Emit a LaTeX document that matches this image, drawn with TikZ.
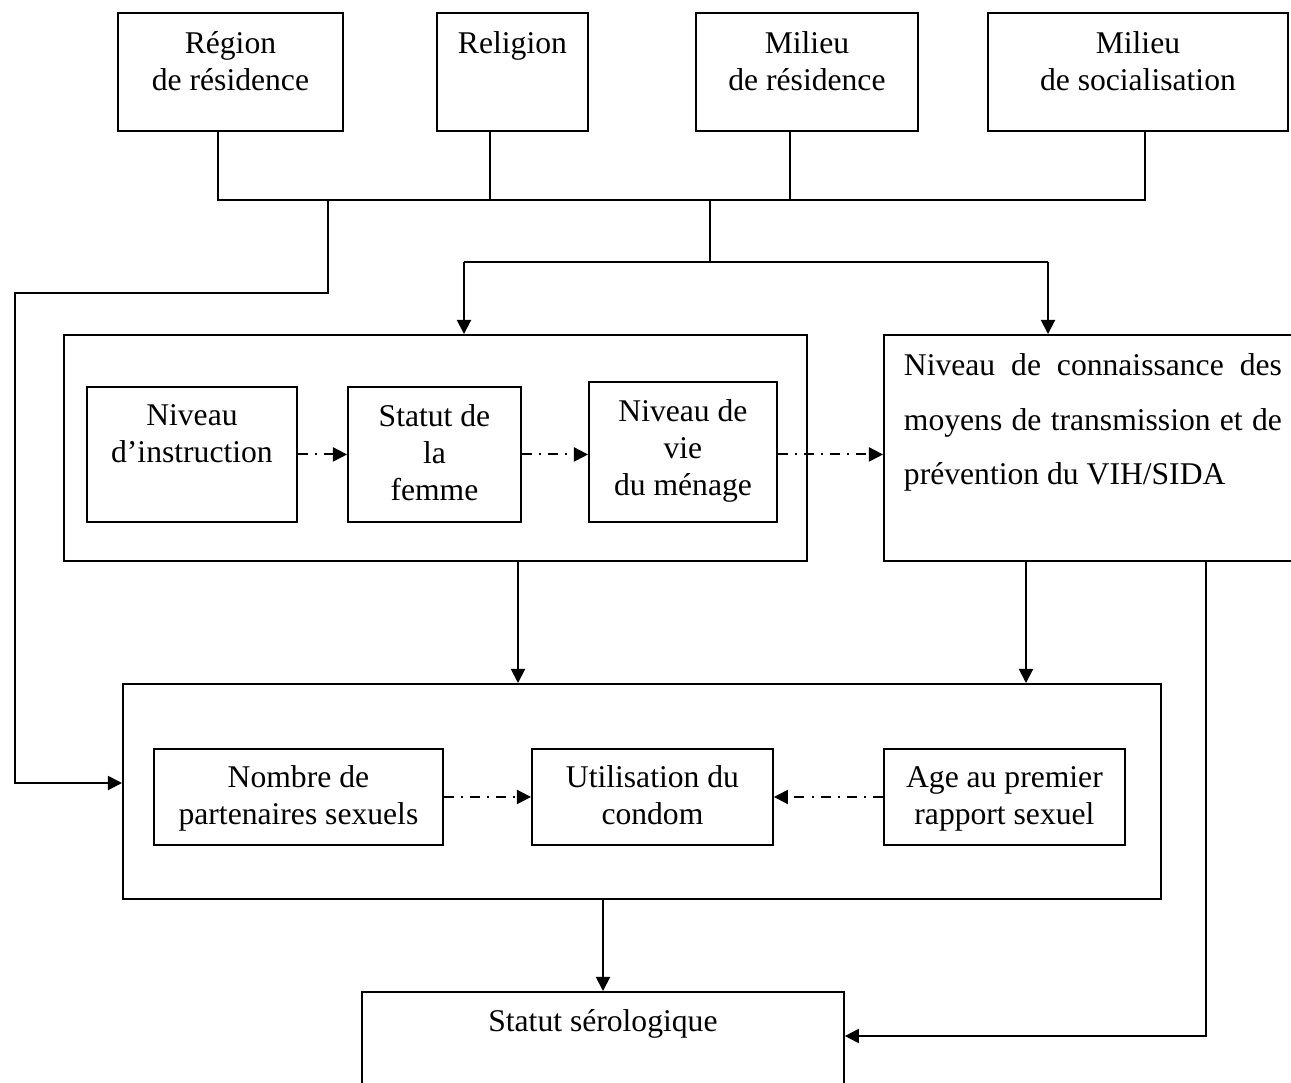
\documentclass[tikz,border=0pt]{standalone}
\usepackage{fontspec}
\setmainfont{Liberation Serif}
\usetikzlibrary{arrows.meta, calc}

% cadre de texte: largeur, hauteur, ligne de base, texte
\newcommand{\boite}[4]{\parbox[c][#2][t]{#1}{\centering\rule{0pt}{#3}#4}}

\tikzset{
  cadre/.style={draw, line width=1.1pt, inner sep=0pt, anchor=north west},
  lien/.style={line width=1.1pt},
  fleche/.style={lien, -{Triangle[length=8pt,width=8pt]}},
  pointille/.style={fleche, dash pattern=on 5.7pt off 4pt on 1.2pt off 4pt}
}

\begin{document}
\begin{tikzpicture}[x=0.02cm, y=-0.02cm, font=\fontsize{18}{21}\selectfont]
  \useasboundingbox (0,0) rectangle (1291,1082);
  \clip (0,0) rectangle (1291,1082);

  % facteurs contextuels
  \node[cadre] (region) at (117,12) {\boite{4.5cm}{2.36cm}{0.82cm}{Région\\de résidence}};
  \node[cadre] (religion) at (436,12) {\boite{3.02cm}{2.36cm}{0.82cm}{Religion}};
  \node[cadre] (residence) at (695,12) {\boite{4.44cm}{2.36cm}{0.82cm}{Milieu\\de résidence}};
  \node[cadre] (social) at (987,12) {\boite{6cm}{2.36cm}{0.82cm}{Milieu\\de socialisation}};

  % facteurs socio-economiques
  \node[cadre, minimum width=14.86cm, minimum height=4.52cm] (facteurs) at (63,334) {};
  \node[cadre] (instruction) at (86,386) {\boite{4.2cm}{2.7cm}{0.78cm}{Niveau\\d’instruction}};
  \node[cadre] (statut) at (347,386) {\boite{3.46cm}{2.7cm}{0.8cm}{Statut de\\la\\femme}};
  \node[cadre] (vie) at (588,381) {\boite{3.76cm}{2.8cm}{0.8cm}{Niveau de\\vie\\du ménage}};
  \node[cadre] (savoir) at (883,334) {\parbox[c][4.52cm][t]{8.44cm}{\hspace*{0.4cm}\parbox[t]{7.56cm}{\fontsize{18}{31}\selectfont\rule{0pt}{0.82cm}\makebox[7.56cm][s]{Niveau de connaissance des}\\\makebox[7.56cm][s]{moyens de transmission et de}\\prévention du VIH/SIDA}}};

  % comportements
  \node[cadre, minimum width=20.76cm, minimum height=4.3cm] (comportements) at (122,683) {};
  \node[cadre] (partenaires) at (153,748) {\boite{5.78cm}{1.92cm}{0.78cm}{Nombre de\\partenaires sexuels}};
  \node[cadre] (condom) at (531,748) {\boite{4.82cm}{1.92cm}{0.78cm}{Utilisation du\\condom}};
  \node[cadre] (age) at (883,748) {\boite{4.82cm}{1.92cm}{0.78cm}{Age au premier\\rapport sexuel}};

  % variable dependante
  \node[cadre] (serologie) at (361,991) {\boite{9.64cm}{2.3cm}{0.8cm}{Statut sérologique}};

  % points de passage
  \coordinate (b1) at (218,200);
  \coordinate (b2) at (490,200);
  \coordinate (b3) at (790,200);
  \coordinate (b4) at (1145,200);
  \coordinate (g1) at (328,200);
  \coordinate (g2) at (15,293);
  \coordinate (g3) at (122,783);
  \coordinate (c1) at (710,200);
  \coordinate (c2) at (464,262);
  \coordinate (c3) at (1048,262);
  \coordinate (d1) at (518,560);
  \coordinate (d2) at (1026,560);
  \coordinate (d3) at (603,898);
  \coordinate (r1) at (1206,560);
  \coordinate (r2) at (1206,1036);

  % liaisons
  \draw[lien] (b1 |- region.south) -- (b1) -- (b4) -- (b4 |- social.south);
  \draw[lien] (b2 |- religion.south) -- (b2);
  \draw[lien] (b3 |- residence.south) -- (b3);
  \draw[fleche] (g1) |- (g2) |- (g3);
  \draw[lien] (c1) -- (c1 |- c2);
  \draw[lien] (c2) -- (c3);
  \draw[fleche] (c2) -- (c2 |- facteurs.north);
  \draw[fleche] (c3) -- (c3 |- savoir.north);

  \draw[pointille] (instruction.east) -- (instruction.east -| statut.west);
  \draw[pointille] (statut.east) -- (statut.east -| vie.west);
  \draw[pointille] (statut.east -| vie.east) -- (statut.east -| savoir.west);

  \draw[fleche] (d1) -- (d1 |- comportements.north);
  \draw[fleche] (d2) -- (d2 |- comportements.north);
  \draw[fleche] (r1) -- (r2) -- (r2 -| serologie.east);

  \draw[pointille] (partenaires.east) -- (condom.west);
  \draw[pointille] (age.west) -- (condom.east);
  \draw[fleche] (d3) -- (d3 |- serologie.north);
\end{tikzpicture}
\end{document}
